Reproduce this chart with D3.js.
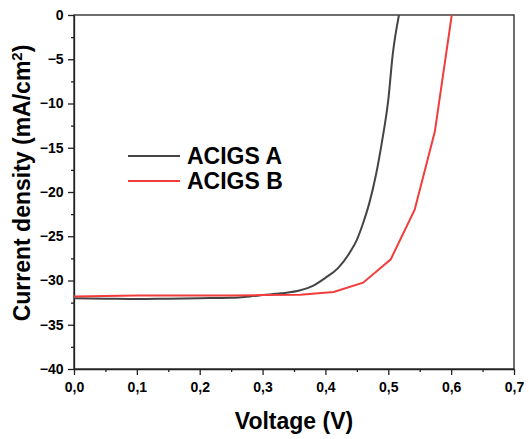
<!DOCTYPE html>
<html><head><meta charset="utf-8">
<script src="https://cdn.jsdelivr.net/npm/d3@7"></script>
<style>body{margin:0;background:#fff}svg{display:block}text{font-family:"Liberation Sans",Arial,sans-serif;font-weight:bold;fill:#000}</style>
</head><body>
<svg id="c" width="529" height="439"></svg>
<script>
const seriesNames = ["ACIGS A", "ACIGS B"];
const voltageA = [0, 0.05, 0.1, 0.15, 0.2, 0.25, 0.28, 0.3, 0.33, 0.36, 0.38, 0.40, 0.42, 0.44, 0.45, 0.46, 0.47, 0.48, 0.49, 0.50, 0.507, 0.517];
const currentA = [-32.0, -32.05, -32.1, -32.05, -32.0, -31.95, -31.8, -31.65, -31.45, -31.1, -30.6, -29.7, -28.6, -26.7, -25.4, -23.5, -21.2, -18.2, -14.3, -9.6, -4.5, 0];
const voltageB = [0, 0.05, 0.1, 0.15, 0.2, 0.25, 0.3, 0.36, 0.413, 0.46, 0.504, 0.542, 0.574, 0.601];
const currentB = [-31.8, -31.75, -31.7, -31.7, -31.7, -31.7, -31.65, -31.6, -31.3, -30.25, -27.6, -22.0, -13.2, 0];
const xTicks = [0, 0.1, 0.2, 0.3, 0.4, 0.5, 0.6, 0.7];
const yTicks = [0, -5, -10, -15, -20, -25, -30, -35, -40];
const colors = ["#444444", "#f23c3c"];

const svg = d3.select("#c");
const L = 74, R = 514, T = 15, B = 369;
const x = d3.scaleLinear().domain([0, 0.7]).range([L, R]);
const y = d3.scaleLinear().domain([-40, 0]).range([B, T]);

const fmtX = d => d3.format(".1f")(d).replace(".", ",");
const fmtY = d => d === 0 ? "0" : "\u2212" + Math.abs(d);

const xMinor = d3.range(0.05, 0.7, 0.1);
const yMinor = d3.range(-2.5, -40, -5);

const gx = svg.append("g").attr("transform", `translate(0,${B})`)
  .call(d3.axisBottom(x).tickValues(xTicks).tickFormat(fmtX).tickSize(6).tickSizeOuter(0));
svg.append("g").attr("transform", `translate(0,${B})`)
  .call(d3.axisBottom(x).tickValues(xMinor).tickFormat("").tickSize(3).tickSizeOuter(0))
  .select(".domain").remove();
const gy = svg.append("g").attr("transform", `translate(${L},0)`)
  .call(d3.axisLeft(y).tickValues(yTicks).tickFormat(fmtY).tickSize(6).tickSizeOuter(0));
svg.append("g").attr("transform", `translate(${L},0)`)
  .call(d3.axisLeft(y).tickValues(yMinor).tickFormat("").tickSize(3).tickSizeOuter(0))
  .select(".domain").remove();

svg.selectAll(".tick line").attr("stroke", "#222").attr("stroke-width", 1.3);
svg.selectAll(".domain").attr("stroke", "#222").attr("stroke-width", 1.3);
gx.selectAll(".tick text").attr("font-size", 14).attr("dy", "1.0em");
gy.selectAll(".tick text").attr("font-size", 14).attr("dx", "-0.1em");

svg.append("rect").attr("x", L).attr("y", T).attr("width", R - L).attr("height", B - T)
  .attr("fill", "none").attr("stroke", "#222").attr("stroke-width", 1.3);

svg.append("clipPath").attr("id", "clip").append("rect")
  .attr("x", L).attr("y", T).attr("width", R - L).attr("height", B - T);

const dataA = voltageA.map((v, i) => [v, currentA[i]]);
const dataB = voltageB.map((v, i) => [v, currentB[i]]);

svg.append("path").datum(dataA).attr("clip-path", "url(#clip)")
  .attr("d", d3.line().x(d => x(d[0])).y(d => y(d[1])).curve(d3.curveMonotoneX))
  .attr("fill", "none").attr("stroke", colors[0]).attr("stroke-width", 2);
svg.append("path").datum(dataB).attr("clip-path", "url(#clip)")
  .attr("d", d3.line().x(d => x(d[0])).y(d => y(d[1])))
  .attr("fill", "none").attr("stroke", colors[1]).attr("stroke-width", 2);

const leg = svg.append("g");
seriesNames.forEach((n, i) => {
  const yy = 156 + i * 25;
  leg.append("line").attr("x1", 128).attr("x2", 180).attr("y1", yy).attr("y2", yy)
    .attr("stroke", colors[i]).attr("stroke-width", 2);
  leg.append("text").attr("x", 187).attr("y", yy + 8).attr("font-size", 23).text(n);
});

svg.append("text").attr("x", 294).attr("y", 429).attr("text-anchor", "middle")
  .attr("font-size", 23).text("Voltage (V)");
const yt = svg.append("text").attr("transform", `translate(30,183) rotate(-90)`)
  .attr("text-anchor", "middle").attr("font-size", 23);
yt.append("tspan").text("Current density (mA/cm");
yt.append("tspan").attr("baseline-shift", "super").attr("font-size", 15).text("2");
yt.append("tspan").text(")");
</script>
</body></html>
